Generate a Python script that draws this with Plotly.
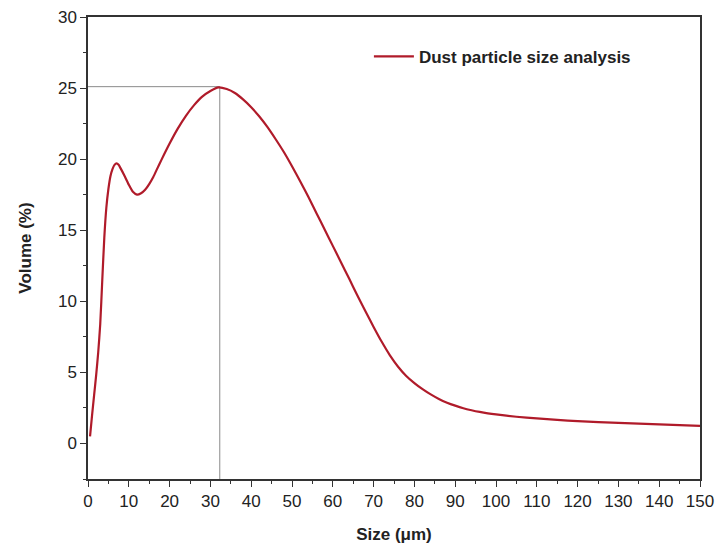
import plotly.graph_objects as go

# Particle size distribution (volume %) vs size (µm)
size_um = [0.5, 1, 1.5, 2, 2.5, 3, 3.5, 4, 4.5, 5, 5.5, 6, 6.5, 7, 7.5, 8, 9, 10, 11,
           12, 13, 14, 15, 16, 17, 18, 20, 22, 24, 26, 28, 30, 32, 34, 36, 38, 40, 42,
           44, 46, 48, 50, 52, 54, 56, 58, 60, 62, 64, 66, 68, 70, 72, 74, 76, 78, 80,
           82, 84, 86, 88, 90, 92, 94, 96, 98, 100, 105, 110, 115, 120, 130, 140, 150]
volume_pct = [0.5, 2.0, 3.4, 4.8, 6.4, 8.4, 11.5, 14.5, 16.6, 17.9, 18.8, 19.3, 19.6,
              19.7, 19.6, 19.35, 18.8, 18.2, 17.7, 17.5, 17.6, 17.85, 18.25, 18.75,
              19.35, 19.95, 21.1, 22.15, 23.05, 23.8, 24.4, 24.8, 25.05, 24.93, 24.65,
              24.2, 23.65, 23.0, 22.25, 21.4, 20.5, 19.5, 18.45, 17.35, 16.2, 15.05,
              13.9, 12.75, 11.6, 10.42, 9.3, 8.2, 7.15, 6.2, 5.4, 4.75, 4.25, 3.82,
              3.45, 3.13, 2.87, 2.66, 2.48, 2.34, 2.22, 2.12, 2.04, 1.88, 1.76, 1.66,
              1.57, 1.45, 1.34, 1.24]

# Mode of the distribution, marked with guide lines
peak_size = 32.3
peak_volume = 25.1

x_range = [0, 150]
y_range = [-2.5, 30]

fig = go.Figure()

# Guide lines to the peak
fig.add_trace(go.Scatter(
    x=[x_range[0], peak_size, peak_size],
    y=[peak_volume, peak_volume, y_range[0]],
    mode="lines",
    line=dict(color="#8a8a8a", width=1),
    showlegend=False,
    hoverinfo="skip",
))

fig.add_trace(go.Scatter(
    x=size_um,
    y=volume_pct,
    mode="lines",
    line=dict(color="#b01b2a", width=2.2, shape="spline", smoothing=0.6, simplify=False),
    name="<b>Dust particle size analysis</b>",
))

font_family = "Liberation Sans, Arial"

axis_common = dict(
    showgrid=False,
    zeroline=False,
    showline=True,
    linecolor="#333333",
    linewidth=1.5,
    mirror=True,
    ticks="outside",
    ticklen=6,
    tickwidth=1.3,
    tickcolor="#333333",
    automargin=False,
    tickfont=dict(family=font_family, size=17, color="#222222"),
)

fig.update_xaxes(
    range=x_range,
    dtick=10,
    tick0=0,
    minor=dict(ticks="outside", ticklen=3, dtick=5, tickcolor="#333333", tickwidth=1.2),
    title=dict(text="<b>Size (μm)</b>", font=dict(family=font_family, size=17, color="#222222"), standoff=18),
    **axis_common,
)
fig.update_yaxes(
    range=y_range,
    dtick=5,
    tick0=0,
    minor=dict(ticks="outside", ticklen=3, dtick=2.5, tickcolor="#333333", tickwidth=1.2),
    title=dict(text="<b>Volume (%)</b>", font=dict(family=font_family, size=17, color="#222222"), standoff=22),
    **axis_common,
)

fig.update_layout(
    width=721,
    height=552,
    margin=dict(l=88, r=21, t=17, b=73),
    paper_bgcolor="white",
    plot_bgcolor="white",
    legend=dict(
        x=0.459, y=0.914, xanchor="left", yanchor="middle",
        bgcolor="rgba(0,0,0,0)",
        font=dict(family=font_family, size=17, color="#222222"),
        itemwidth=40,
    ),
)

fig.write_html("out.html")
